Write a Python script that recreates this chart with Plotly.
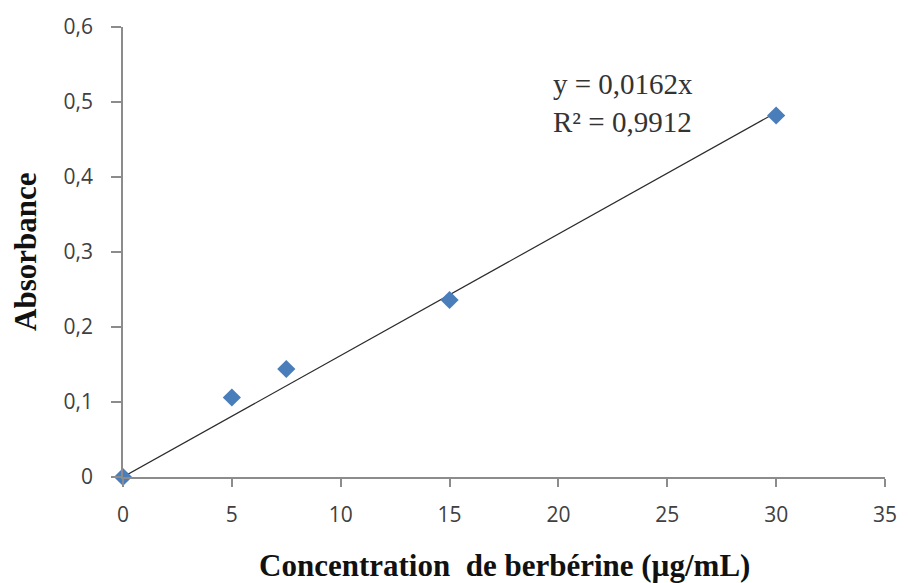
import plotly.graph_objects as go

concentration = [0, 5, 7.5, 15, 30]
absorbance = [0.0, 0.106, 0.144, 0.236, 0.482]
slope = 0.0162
r2 = 0.9912

x_ticks = [0, 5, 10, 15, 20, 25, 30, 35]
y_ticks = [0, 0.1, 0.2, 0.3, 0.4, 0.5, 0.6]
y_ticktext = ["0", "0,1", "0,2", "0,3", "0,4", "0,5", "0,6"]

trend_x = [min(concentration), max(concentration)]
trend_y = [slope * v for v in trend_x]

fig = go.Figure()
fig.add_trace(go.Scatter(
    x=trend_x, y=trend_y, mode="lines",
    line=dict(color="#2b2b2b", width=1.2),
    hoverinfo="skip", showlegend=False, cliponaxis=False,
))
fig.add_trace(go.Scatter(
    x=concentration, y=absorbance, mode="markers",
    marker=dict(symbol="diamond", size=14, color="#4A7EBB"),
    showlegend=False, cliponaxis=False,
))

tick_font = dict(family="Open Sans", size=21, color="#404040")
fig.update_xaxes(
    range=[0, 35], tickvals=x_ticks, ticktext=[str(v) for v in x_ticks],
    showgrid=False, zeroline=False, showline=True, linecolor="#8c8c8c", linewidth=1.5,
    ticks="outside", ticklen=8, tickcolor="#8c8c8c", tickwidth=1.5,
    tickfont=tick_font, ticklabelstandoff=10,
)
fig.update_yaxes(
    range=[0, 0.6], tickvals=y_ticks, ticktext=y_ticktext,
    showgrid=False, zeroline=False, showline=True, linecolor="#8c8c8c", linewidth=1.5,
    ticks="outside", ticklen=10, tickcolor="#8c8c8c", tickwidth=1.5,
    tickfont=tick_font, ticklabelstandoff=14,
)

title_font = dict(family="Liberation Serif", size=31, color="#111111")
eq_font = dict(family="Liberation Serif", size=29, color="#333333")
eq_text = "y = {}x<br>R² = {}".format(str(slope).replace(".", ","), str(r2).replace(".", ","))
fig.update_layout(
    width=909, height=583,
    margin=dict(l=123, r=16, t=27, b=106),
    paper_bgcolor="white", plot_bgcolor="white",
    annotations=[
        dict(text="<b>Concentration  de berbérine (µg/mL)</b>", xref="paper", yref="paper",
             x=0.5, y=0, yshift=-88, xanchor="center", yanchor="middle",
             showarrow=False, font=title_font),
        dict(text="<b>Absorbance</b>", xref="paper", yref="paper",
             x=0, y=0.5, xshift=-98, xanchor="center", yanchor="middle",
             textangle=-90, showarrow=False, font=title_font),
        dict(text=eq_text, xref="x", yref="y", x=19.68, y=0.499,
             xanchor="left", yanchor="middle", align="left",
             showarrow=False, font=eq_font),
    ],
)

fig.write_html("out.html")
